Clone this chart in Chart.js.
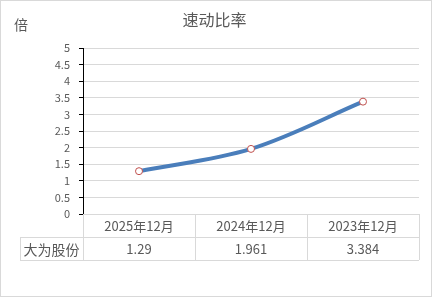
<!DOCTYPE html>
<html>
<head>
<meta charset="utf-8">
<script src="https://cdn.jsdelivr.net/npm/chart.js@4/dist/chart.umd.min.js"></script>
<style>
  body { margin: 0; background: #fff; }
  #box { width: 433px; height: 297px; position: relative; }
</style>
</head>
<body>
<div id="box"><canvas id="myChart"></canvas></div>
<script>
let chartTitle = "速动比率";
let unitLabel = "倍";
let seriesName = "大为股份";
let periods = ["2025年12月", "2024年12月", "2023年12月"];
let quickRatio = [1.29, 1.961, 3.384];
let yTicks = [0, 0.5, 1, 1.5, 2, 2.5, 3, 3.5, 4, 4.5, 5];

const fontFamily = '"Noto Sans CJK SC", "Noto Sans", sans-serif';
const textColor = "#595959";
const lineGray = "#d9d9d9";

// data table under the plot + unit label + outer frame
const tablePlugin = {
  id: "dataTable",
  afterDraw(chart) {
    const ctx = chart.ctx;
    const area = chart.chartArea;
    const x = chart.scales.x;
    const rowH = 23;
    const labelLeft = 20;
    const top = area.bottom;
    ctx.save();
    ctx.strokeStyle = lineGray;
    ctx.lineWidth = 1;
    // outer frame
    ctx.strokeRect(0.5, 0.5, 431, 296);
    // row lines
    ctx.beginPath();
    ctx.moveTo(area.left, top + 0.5);
    ctx.lineTo(area.right, top + 0.5);
    ctx.moveTo(labelLeft, top + rowH + 0.5);
    ctx.lineTo(area.right, top + rowH + 0.5);
    ctx.moveTo(labelLeft, top + 2 * rowH + 0.5);
    ctx.lineTo(area.right, top + 2 * rowH + 0.5);
    // column lines
    const step = (area.right - area.left) / periods.length;
    for (let i = 0; i <= periods.length; i++) {
      const cx = Math.round(area.left + i * step) + 0.5;
      ctx.moveTo(cx, top);
      ctx.lineTo(cx, top + 2 * rowH);
    }
    ctx.moveTo(labelLeft + 0.5, top + rowH);
    ctx.lineTo(labelLeft + 0.5, top + 2 * rowH);
    ctx.stroke();

    ctx.fillStyle = textColor;
    ctx.font = "13px " + fontFamily;
    ctx.textAlign = "center";
    ctx.textBaseline = "middle";
    for (let i = 0; i < periods.length; i++) {
      const px = x.getPixelForValue(i);
      ctx.fillText(periods[i], px, top + rowH / 2 + 1);
      ctx.fillText(String(quickRatio[i]), px, top + rowH * 1.5 + 1);
    }
    ctx.font = "14px " + fontFamily;
    ctx.fillText(seriesName, (labelLeft + area.left) / 2, top + rowH * 1.5 + 1);

    ctx.font = "14px " + fontFamily;
    ctx.fillText(unitLabel, 21, 25);
    ctx.restore();
  },
};

document.addEventListener("DOMContentLoaded", function () {
  const data = {
    labels: periods,
    datasets: [
      {
        label: seriesName,
        data: quickRatio,
        borderColor: "#4a7ebb",
        borderWidth: 4,
        tension: 0.35,
        pointRadius: 3.5,
        pointBorderWidth: 1,
        pointBackgroundColor: "#ffffff",
        pointBorderColor: "#c0504d",
      },
    ],
  };

  const config = {
    type: "line",
    data: data,
    options: {
      responsive: true,
      maintainAspectRatio: false,
      animation: false,
      layout: {
        padding: { top: 0, right: 14, bottom: 83, left: 10 },
      },
      plugins: {
        legend: { display: false },
        tooltip: { enabled: false },
        title: {
          display: true,
          text: chartTitle,
          color: textColor,
          font: { family: fontFamily, size: 16, weight: "normal", lineHeight: 1.2 },
          padding: { top: 10, bottom: 18.8 },
        },
      },
      scales: {
        x: {
          display: false,
          offset: true,
        },
        y: {
          min: 0,
          max: 5,
          afterFit(scale) {
            scale.width = 73;
          },
          afterBuildTicks(scale) {
            scale.ticks = yTicks.map((v) => ({ value: v }));
          },
          ticks: {
            color: textColor,
            padding: 9,
            font: { family: fontFamily, size: 11 },
            callback: (value) => String(value),
          },
          grid: {
            color: lineGray,
            tickColor: "#000000",
            tickLength: 4,
          },
          border: { color: "#000000", width: 1 },
        },
      },
    },
    plugins: [tablePlugin],
  };
  const myChart = new Chart(document.getElementById("myChart"), config);
});
</script>
</body>
</html>
